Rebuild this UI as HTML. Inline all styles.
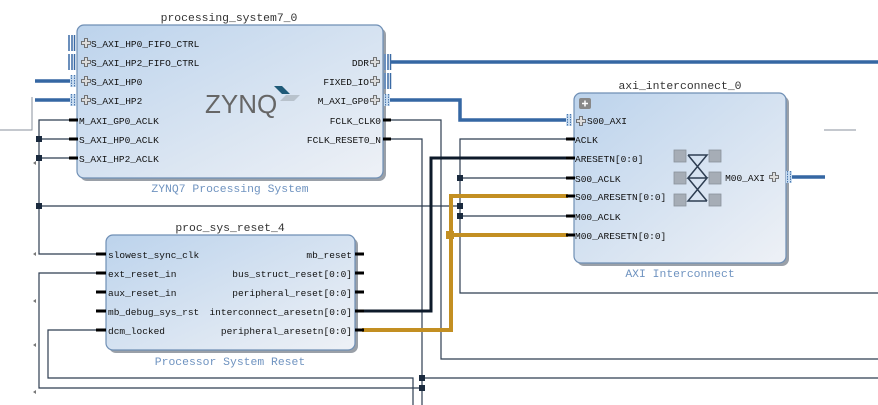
<!DOCTYPE html>
<html><head><meta charset="utf-8"><style>
html,body{margin:0;padding:0;background:#fff;}
svg{display:block;}
.p{font-family:"Liberation Mono",monospace;font-size:9.5px;fill:#111;}
.t{font-family:"Liberation Mono",monospace;font-size:11.4px;fill:#333;}
.s{font-family:"Liberation Mono",monospace;font-size:11.4px;fill:#6f93c0;}
</style></head><body>
<svg width="878" height="405" viewBox="0 0 878 405" xmlns="http://www.w3.org/2000/svg">
<defs>
<linearGradient id="g" x1="0" y1="0" x2="1" y2="1">
<stop offset="0" stop-color="#bcd3ec"/><stop offset="1" stop-color="#eef1f6"/>
</linearGradient>
<g id="plus"><path d="M-1.5,-4.5h3v3h3v3h-3v3h-3v-3h-3v-3h3z" fill="#ddd" stroke="#555" stroke-width="0.8"/></g>
<g id="bus"><rect x="0" y="-6" width="6" height="12" fill="#c8dcf0"/><path d="M1.5,-6v12M4.5,-6v12" stroke="#4a78b0" stroke-width="1" stroke-dasharray="1.5,1"/></g>
<g id="bus2"><rect x="0" y="-8" width="7" height="16" fill="#fff"/><path d="M1,-8v16M4,-8v16M6.5,-8v16" stroke="#3a6aa5" stroke-width="1.5"/></g>
</defs>

<g stroke="#8a929c" stroke-width="1" fill="none">
<path d="M0,130H32V97"/>
<path d="M824,130H856"/>
</g>

<g stroke="#2e3e52" stroke-width="1.2" fill="none">
<path d="M70,120H39V254H104"/>
<path d="M39,139H70M39,158H70"/>
<path d="M39,206H460"/>
<path d="M568,139H460V293H878"/>
<path d="M460,178H568M460,216H568"/>
<path d="M390,120H441V359H878"/>
<path d="M390,139H422V405"/>
<path d="M422,378H878"/>
<path d="M104,273H39V388H422"/>
<path d="M104,330H48V378H413V405"/>
</g>
<g fill="#1a2a3e">
<rect x="36" y="136" width="6" height="6"/><rect x="36" y="155" width="6" height="6"/>
<rect x="36" y="203" width="6" height="6"/>
<rect x="457" y="175" width="6" height="6"/><rect x="457" y="203" width="6" height="6"/><rect x="457" y="213" width="6" height="6"/>
<rect x="419" y="375" width="6" height="6"/><rect x="419" y="385" width="6" height="6"/>
</g>
<g fill="#777"><path d="M33,163l3,-2v4z"/><path d="M33,254l3,-2v4z"/><path d="M33,301l3,-2v4z"/><path d="M33,345l3,-2v4z"/><path d="M33,392l3,-2v4z"/></g>

<path d="M362,311H431V158H568" stroke="#0d1a2a" stroke-width="3" fill="none"/>
<path d="M362,330H451V196H568M451,235H568" stroke="#c38f22" stroke-width="4" fill="none"/>
<rect x="446" y="231" width="8" height="8" fill="#c38f22"/>

<g stroke="#3567a3" stroke-width="3.5" fill="none">
<path d="M35,81H70M35,100H70"/>
<path d="M390,62H878"/>
<path d="M390,100H460V120H568"/>
<path d="M790,177H825"/>
</g>

<rect x="80" y="28" width="306" height="153" rx="7" fill="#9aa0a8"/>
<rect x="77" y="25" width="306" height="153" rx="7" fill="url(#g)" stroke="#6f8fb5" stroke-width="1.2"/>
<text x="229" y="21" class="t" text-anchor="middle">processing_system7_0</text>
<text x="230" y="192" class="s" text-anchor="middle">ZYNQ7 Processing System</text>
<use href="#bus2" x="68" y="43"/><use href="#bus2" x="68" y="62"/>
<use href="#bus" x="70" y="81"/><use href="#bus" x="70" y="100"/>
<use href="#bus2" x="384" y="62"/><use href="#bus2" x="384" y="81"/><use href="#bus" x="384" y="100"/>
<g stroke="#000" stroke-width="3"><path d="M69,120h9M69,139h9M69,158h9M383,120h8M383,139h8"/></g>
<use href="#plus" x="86" y="43"/><use href="#plus" x="86" y="62"/><use href="#plus" x="86" y="81"/><use href="#plus" x="86" y="100"/>
<text x="91" y="47" class="p">S_AXI_HP0_FIFO_CTRL</text>
<text x="91" y="66" class="p">S_AXI_HP2_FIFO_CTRL</text>
<text x="91" y="85" class="p">S_AXI_HP0</text>
<text x="91" y="104" class="p">S_AXI_HP2</text>
<text x="79" y="124" class="p">M_AXI_GP0_ACLK</text>
<text x="79" y="143" class="p">S_AXI_HP0_ACLK</text>
<text x="79" y="162" class="p">S_AXI_HP2_ACLK</text>
<use href="#plus" x="375" y="62"/><use href="#plus" x="375" y="81"/><use href="#plus" x="375" y="100"/>
<text x="369" y="66" class="p" text-anchor="end">DDR</text>
<text x="369" y="85" class="p" text-anchor="end">FIXED_IO</text>
<text x="369" y="104" class="p" text-anchor="end">M_AXI_GP0</text>
<text x="381" y="124" class="p" text-anchor="end">FCLK_CLK0</text>
<text x="381" y="143" class="p" text-anchor="end">FCLK_RESET0_N</text>
<text x="205" y="113" font-family="Liberation Sans,sans-serif" font-size="26" fill="#666">ZYNQ</text>
<path d="M274,86h8l8,8h-8z" fill="#1f5a78"/><path d="M286,95h14l-6,6h-14z" fill="#b8c2cc"/>

<rect x="109" y="238" width="249" height="115" rx="7" fill="#9aa0a8"/>
<rect x="106" y="235" width="249" height="115" rx="7" fill="url(#g)" stroke="#6f8fb5" stroke-width="1.2"/>
<text x="230" y="231" class="t" text-anchor="middle">proc_sys_reset_4</text>
<text x="230" y="365" class="s" text-anchor="middle">Processor System Reset</text>
<g stroke="#000" stroke-width="3"><path d="M96,254h10M96,273h10M96,292h10M96,311h10M96,330h10M355,254h9M355,273h9M355,292h9M355,311h9M355,330h9"/></g>
<text x="108" y="258" class="p">slowest_sync_clk</text>
<text x="108" y="277" class="p">ext_reset_in</text>
<text x="108" y="296" class="p">aux_reset_in</text>
<text x="108" y="315" class="p">mb_debug_sys_rst</text>
<text x="108" y="334" class="p">dcm_locked</text>
<text x="352" y="258" class="p" text-anchor="end">mb_reset</text>
<text x="352" y="277" class="p" text-anchor="end">bus_struct_reset[0:0]</text>
<text x="352" y="296" class="p" text-anchor="end">peripheral_reset[0:0]</text>
<text x="352" y="315" class="p" text-anchor="end">interconnect_aresetn[0:0]</text>
<text x="352" y="334" class="p" text-anchor="end">peripheral_aresetn[0:0]</text>

<rect x="577" y="96" width="212" height="170" rx="7" fill="#9aa0a8"/>
<rect x="574" y="93" width="212" height="170" rx="7" fill="url(#g)" stroke="#6f8fb5" stroke-width="1.2"/>
<text x="680" y="89" class="t" text-anchor="middle">axi_interconnect_0</text>
<text x="680" y="277" class="s" text-anchor="middle">AXI Interconnect</text>
<rect x="579" y="98" width="12" height="11" rx="2" fill="#888"/>
<path d="M585,100.5v6M582,103.5h6" stroke="#fff" stroke-width="1.5"/>
<use href="#bus" x="566" y="120"/>
<use href="#plus" x="581" y="121"/>
<text x="587" y="124" class="p">S00_AXI</text>
<g stroke="#000" stroke-width="3"><path d="M566,139h9M566,158h9M566,178h9M566,196h9M566,216h9M566,235h9"/></g>
<text x="575" y="143" class="p">ACLK</text>
<text x="575" y="162" class="p">ARESETN[0:0]</text>
<text x="575" y="182" class="p">S00_ACLK</text>
<text x="575" y="200" class="p">S00_ARESETN[0:0]</text>
<text x="575" y="220" class="p">M00_ACLK</text>
<text x="575" y="239" class="p">M00_ARESETN[0:0]</text>
<g fill="#a6adb6" stroke="#8a929c" stroke-width="0.8">
<rect x="674" y="150" width="12" height="12"/><rect x="674" y="172" width="12" height="12"/><rect x="674" y="194" width="12" height="12"/>
<rect x="709" y="150" width="12" height="12"/><rect x="709" y="172" width="12" height="12"/><rect x="709" y="194" width="12" height="12"/>
</g>
<path d="M688,155h19l-19,23h19l-19,23h19M688,155l19,23M688,178l19,23" stroke="#2e3e52" stroke-width="1.5" fill="none"/>
<text x="765" y="181" class="p" text-anchor="end">M00_AXI</text>
<use href="#plus" x="774" y="177"/>
<use href="#bus" x="786" y="177"/>
</svg>
</body></html>
